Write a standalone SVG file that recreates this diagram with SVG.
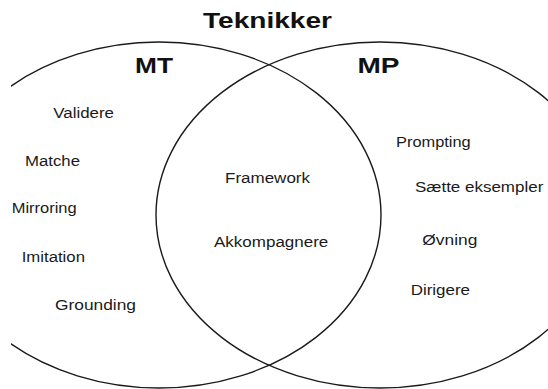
<svg xmlns="http://www.w3.org/2000/svg" width="548" height="389" viewBox="0 0 548 389">
  <defs>
    <clipPath id="frame">
      <rect x="11" y="0" width="537" height="389"/>
    </clipPath>
  </defs>
  <style>
    .set { fill: none; stroke: #1a1a1a; stroke-width: 1.4; }
    .title { font-family: "Liberation Sans", Arial, sans-serif; font-weight: bold; font-size: 21.5px; fill: #111; }
    .item { font-family: "Liberation Sans", Arial, sans-serif; font-size: 14px; fill: #1a1a1a; }
  </style>
  <rect width="548" height="389" fill="#ffffff"/>
  <g id="title">
    <text class="title" x="203" y="27.7" textLength="129" lengthAdjust="spacingAndGlyphs">Teknikker</text>
  </g>
  <g id="set-MT">
    <ellipse class="set" cx="159" cy="215" rx="222" ry="173" clip-path="url(#frame)"/>
    <text class="title" x="135" y="72.7" textLength="38" lengthAdjust="spacingAndGlyphs">MT</text>
  </g>
  <g id="set-MP">
    <ellipse class="set" cx="380" cy="215" rx="224" ry="173"/>
    <text class="title" x="357.5" y="72.7" textLength="42" lengthAdjust="spacingAndGlyphs">MP</text>
  </g>
  <g id="items-MT">
    <text class="item" x="53.3" y="117.7" textLength="60.7" lengthAdjust="spacingAndGlyphs">Validere</text>
    <text class="item" x="25" y="165.7" textLength="55" lengthAdjust="spacingAndGlyphs">Matche</text>
    <text class="item" x="11.7" y="213.3" textLength="65" lengthAdjust="spacingAndGlyphs">Mirroring</text>
    <text class="item" x="21.7" y="261.7" textLength="63.3" lengthAdjust="spacingAndGlyphs">Imitation</text>
    <text class="item" x="55" y="310" textLength="81" lengthAdjust="spacingAndGlyphs">Grounding</text>
  </g>
  <g id="items-both">
    <text class="item" x="225" y="182.7" textLength="85" lengthAdjust="spacingAndGlyphs">Framework</text>
    <text class="item" x="214" y="247.3" textLength="114.3" lengthAdjust="spacingAndGlyphs">Akkompagnere</text>
  </g>
  <g id="items-MP">
    <text class="item" x="396" y="146.7" textLength="74.7" lengthAdjust="spacingAndGlyphs">Prompting</text>
    <text class="item" x="415" y="191.7" textLength="128.3" lengthAdjust="spacingAndGlyphs">Sætte eksempler</text>
    <text class="item" x="422.3" y="245" textLength="55" lengthAdjust="spacingAndGlyphs">Øvning</text>
    <text class="item" x="410.7" y="295" textLength="59.3" lengthAdjust="spacingAndGlyphs">Dirigere</text>
  </g>
  <g id="connectors"></g>
</svg>
